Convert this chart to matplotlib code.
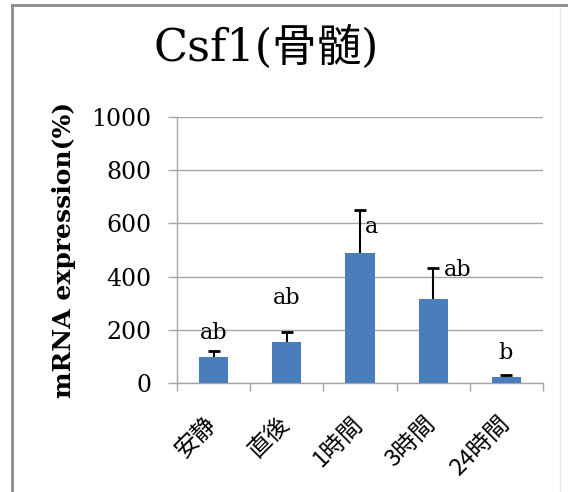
import matplotlib
matplotlib.use("Agg")
import matplotlib.pyplot as plt
from matplotlib.lines import Line2D
from matplotlib.transforms import ScaledTranslation
import numpy as np

categories = ["安静", "直後", "1時間", "3時間", "24時間"]
values = [97, 154, 489, 315, 21]
errors = [24, 37, 161, 116, 9]
sig_labels = ["ab", "ab", "a", "ab", "b"]
label_x = [0.0, 1.0, 2.16, 3.33, 3.99]
label_y = [188, 320, 587, 425, 113]
yticks = [0, 200, 400, 600, 800, 1000]

serif = ["DejaVu Serif", "Noto Sans CJK JP"]
cjk = ["Noto Sans CJK JP", "DejaVu Sans"]

fig = plt.figure(figsize=(5.68, 4.92), dpi=100)
ax = fig.add_axes([177/568, 1-383/492, (543-177)/568, (383-117)/492])

x = np.arange(len(categories))
ax.bar(x, values, width=0.4, color="#4a7ebb", zorder=3)
eb = ax.errorbar(x, values, yerr=[np.zeros(len(values)), errors], fmt="none",
                 ecolor="black", elinewidth=1.5, capsize=4, capthick=2, zorder=4)
caplines = eb[1]
if len(caplines) == 2:
    caplines[0].set_visible(False)

for lx, ly, t in zip(label_x, label_y, sig_labels):
    ax.text(lx, ly, t, ha="center", va="center", fontsize=16, family=serif, zorder=5)

ax.set_xlim(-0.5, len(categories) - 0.5)
ax.set_ylim(0, 1000)
ax.set_yticks(yticks)
ax.set_yticklabels([str(v) for v in yticks], family=serif, fontsize=17)
ax.yaxis.grid(True, color="#a6a6a6", linewidth=1, zorder=0)
ax.set_xticks(np.arange(-0.5, len(categories), 1.0))
ax.set_xticklabels([])
ax.tick_params(axis="x", which="major", length=6, color="#a6a6a6", width=1, direction="out")
ax.tick_params(axis="y", length=6.5, color="#a6a6a6", width=1, pad=12)

lab_tr = ax.get_xaxis_transform() + ScaledTranslation(-0.09, -0.29, fig.dpi_scale_trans)
for i, c in enumerate(categories):
    ax.text(x[i], 0, c, transform=lab_tr, rotation=45, ha="right", va="top",
            rotation_mode="anchor", family=cjk, fontsize=17, clip_on=False)

for s in ["top", "right"]:
    ax.spines[s].set_visible(False)
for s in ["left", "bottom"]:
    ax.spines[s].set_color("#a6a6a6")
    ax.spines[s].set_linewidth(1)

ax.set_ylabel("mRNA expression(%)", family=serif, fontsize=18, fontweight="bold")
ax.yaxis.set_label_coords(-0.276, 0.5)

fig.text(266/568, 1-48/492, "Csf1(骨髄)", ha="center", va="center", fontsize=32, family=serif)

fig.add_artist(Line2D([12/568, 12/568], [0, 1-5/492], color="#8c8c8c", linewidth=2, transform=fig.transFigure))
fig.add_artist(Line2D([12/568, 1], [1-5/492, 1-5/492], color="#8c8c8c", linewidth=2, transform=fig.transFigure))
fig.add_artist(Line2D([560/568, 560/568], [0, 1-8/492], color="#e6e6e6", linewidth=1, transform=fig.transFigure))

fig.savefig("out.png", dpi=100)
